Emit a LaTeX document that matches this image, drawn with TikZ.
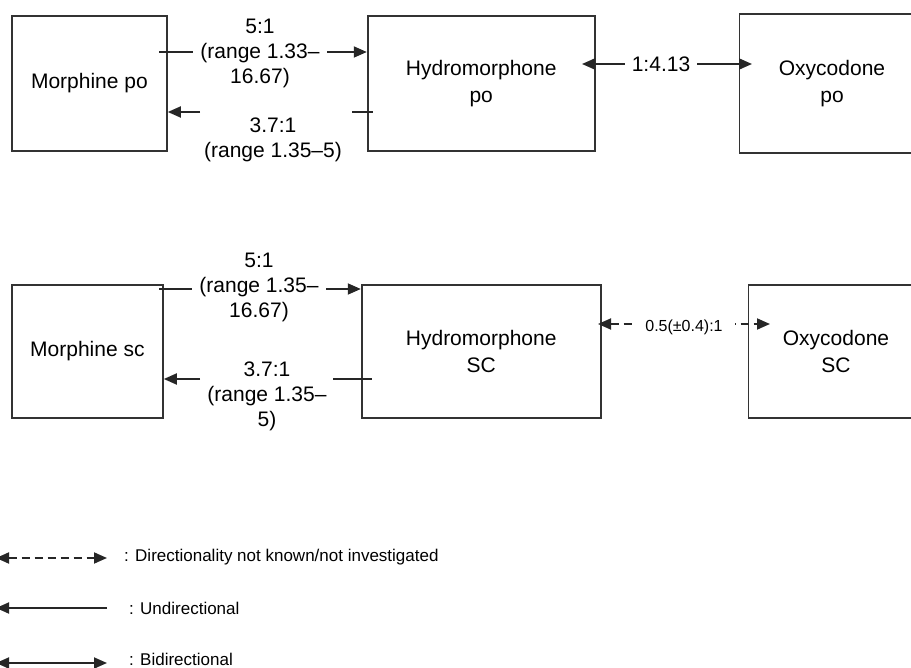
\documentclass[tikz,border=0pt]{standalone}
\usepackage{fontspec}
\setmainfont{Liberation Sans}
\usetikzlibrary{positioning}
\usetikzlibrary{arrows.meta}

\begin{document}
\begin{tikzpicture}[
    x=1pt, y=-1pt,
    node distance=1cm,
    drug/.style={rectangle, draw=black!80, line width=1.8pt, align=center, inner sep=0pt, font=\fontsize{21}{27}\selectfont},
    ratio/.style={align=center, inner sep=1pt, font=\fontsize{21}{25}\selectfont},
    cover/.style={fill=white, inner ysep=0pt},
    legend/.style={anchor=west, inner sep=0pt, font=\fontsize{17}{20}\selectfont},
    arr/.style={line width=1.8pt, draw=black!85, -{Triangle[length=13pt,width=11pt]}},
    arrboth/.style={line width=1.8pt, draw=black!85, {Triangle[length=13pt,width=11pt]}-{Triangle[length=13pt,width=11pt]}},
    arrdash/.style={arrboth, dash pattern=on 8pt off 5pt},
    stub/.style={line width=1.8pt, draw=black!85}
    ]
    \clip (0,0) rectangle (911,668);
    \useasboundingbox (0,0) rectangle (911,668);

    % oral row
    \node (mpo) [drug, minimum width=155pt, minimum height=135pt, anchor=north west] at (11,15) {Morphine po};
    \node (hpo) [drug, minimum width=227pt, minimum height=135pt, right=199pt of mpo] {Hydromorphone\\po};
    \node (opo) [drug, minimum width=185pt, minimum height=139pt, right=143pt of hpo] {Oxycodone\\po};

    % subcutaneous row
    \node (msc) [drug, minimum width=151pt, minimum height=133pt, anchor=north west] at (11,284) {Morphine sc};
    \node (hsc) [drug, minimum width=239pt, minimum height=133pt, right=197pt of msc] {Hydromorphone\\SC};
    \node (osc) [drug, minimum width=175pt, minimum height=133pt, right=146pt of hsc] {Oxycodone\\SC};

    % morphine po -> hydromorphone po
    \coordinate (a1) at (159,52);
    \draw[arr] (a1) -- (a1 -| hpo.west);
    \node (l1) [ratio, cover, inner xsep=7pt] at (260,53) {5:1\\(range 1.33–\\16.67)};

    % hydromorphone po -> morphine po
    \coordinate (b1) at (200,112);
    \coordinate (b2) at (352,112);
    \coordinate (b3) at (373,112);
    \draw[arr] (b1) -- (b1 -| mpo.east);
    \draw[stub] (b2) -- (b3);
    \node (l2) [ratio] at (273,140) {3.7:1\\(range 1.35–5)};

    % hydromorphone po <-> oxycodone po
    \coordinate (c1) at (582,64);
    \coordinate (c2) at (752,64);
    \draw[arrboth] (c1) -- (c2);
    \node (l3) [ratio, cover, inner xsep=7pt] at (661,64) {1:4.13};

    % morphine sc -> hydromorphone sc
    \coordinate (d1) at (159,289);
    \draw[arr] (d1) -- (d1 -| hsc.west);
    \node (l4) [ratio, cover, inner xsep=7pt] at (259,287) {5:1\\(range 1.35–\\16.67)};

    % hydromorphone sc -> morphine sc
    \coordinate (e1) at (200,379);
    \coordinate (e2) at (333,379);
    \coordinate (e3) at (372,379);
    \draw[arr] (e1) -- (e1 -| msc.east);
    \draw[stub] (e2) -- (e3);
    \node (l5) [ratio] at (267,396) {3.7:1\\(range 1.35–\\5)};

    % hydromorphone sc <-> oxycodone sc
    \coordinate (f1) at (598,324);
    \coordinate (f2) at (770,324);
    \draw[arrdash] (f1) -- (f2);
    \node (l6) [cover, inner xsep=12pt, font=\fontsize{16}{19}\selectfont] at (684,327) {0.5(±0.4):1};

    % legend
    \coordinate (g1) at (-4,558);
    \coordinate (g2) at (107,558);
    \draw[arrdash] (g1) -- (g2);
    \node (t1) [legend] at (124,557) {: Directionality not known/not investigated};
    \coordinate (h1) at (107,608);
    \coordinate (h2) at (-4,608);
    \draw[arr] (h1) -- (h2);
    \node (t2) [legend] at (129,608) {: Undirectional};
    \coordinate (k1) at (-4,663);
    \coordinate (k2) at (107,663);
    \draw[arrboth] (k1) -- (k2);
    \node (t3) [legend] at (129,659) {: Bidirectional};
  \end{tikzpicture}
\end{document}
